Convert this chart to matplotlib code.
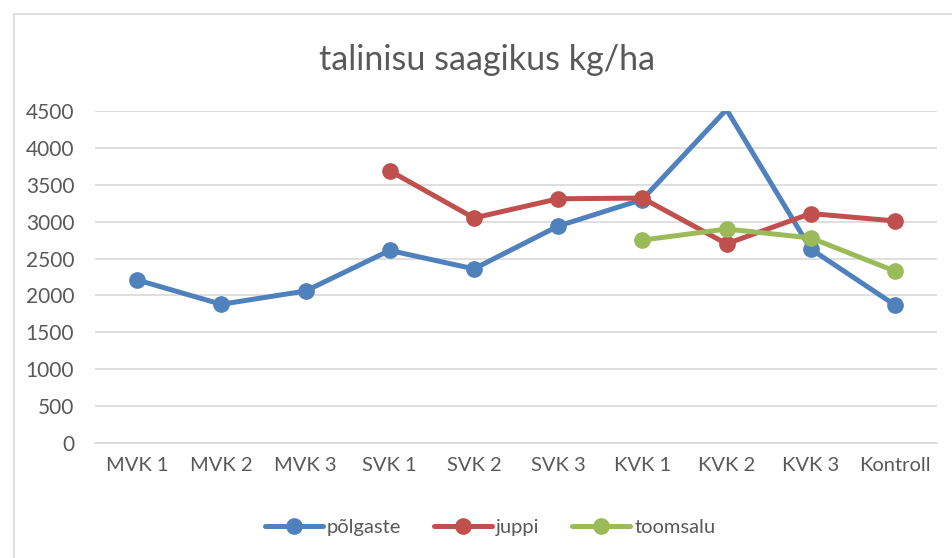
import numpy as np
import matplotlib.pyplot as plt
from matplotlib.patches import Rectangle

categories = ["MVK 1", "MVK 2", "MVK 3", "SVK 1", "SVK 2", "SVK 3",
              "KVK 1", "KVK 2", "KVK 3", "Kontroll"]
polgaste = [2210, 1880, 2060, 2610, 2360, 2940, 3300, 4520, 2630, 1870]
juppi = [np.nan, np.nan, np.nan, 3690, 3050, 3310, 3320, 2700, 3110, 3010]
toomsalu = [np.nan, np.nan, np.nan, np.nan, np.nan, np.nan, 2750, 2900, 2780, 2330]
yticks = [0, 500, 1000, 1500, 2000, 2500, 3000, 3500, 4000, 4500]

plt.rcParams['font.family'] = ['Lato', 'DejaVu Sans']

fig = plt.figure(figsize=(9.52, 5.58), dpi=100)
ax = fig.add_axes([95 / 952, 1 - 443 / 558, (937 - 95) / 952, (443 - 111) / 558])

# light frame around the whole chart, like the Excel chart border
fig.patches.append(Rectangle((14 / 952, -0.01), 1.0, 1 - 14 / 558 + 0.01,
                             transform=fig.transFigure, fill=False,
                             edgecolor="#d9d9d9", linewidth=1.2))

x = np.arange(len(categories))
ymax = yticks[-1]
series = [("põlgaste", polgaste, "#4F81BD"),
          ("juppi", juppi, "#C0504D"),
          ("toomsalu", toomsalu, "#9BBB59")]
for name, vals, color in series:
    vals = np.array(vals, dtype=float)
    # markers above the axis max are hidden, the line is clipped
    show = [i for i, v in enumerate(vals) if not np.isnan(v) and v <= ymax]
    ax.plot(x, vals, color=color, linewidth=3.6, marker="o", markersize=11,
            markevery=show, label=name, solid_capstyle="round",
            solid_joinstyle="miter")

ax.set_xlim(-0.5, len(categories) - 0.5)
ax.set_ylim(0, ymax)
ax.set_yticks(yticks)
ax.set_xticks(x)
ax.set_xticklabels(categories)
ax.grid(axis="y", color="#d9d9d9", linewidth=1.2)
ax.set_axisbelow(True)
for side in ["top", "right", "left"]:
    ax.spines[side].set_visible(False)
ax.spines["bottom"].set_color("#d9d9d9")
ax.spines["bottom"].set_linewidth(1.2)
ax.tick_params(axis="x", length=0, labelsize=14.5, colors="#595959", pad=10)
ax.tick_params(axis="y", length=0, labelsize=15, colors="#595959", pad=15)

fig.text(487 / 952, 1 - 60 / 558, "talinisu saagikus kg/ha", ha="center",
         va="center", fontsize=24.5, color="#595959")

fig.legend(loc="center", bbox_to_anchor=(490 / 952, 1 - 527 / 558), ncol=3,
           frameon=False, fontsize=14.5, labelcolor="#595959",
           handlelength=2.9, columnspacing=1.6, handletextpad=0.2)

fig.savefig("out.png", dpi=100)
